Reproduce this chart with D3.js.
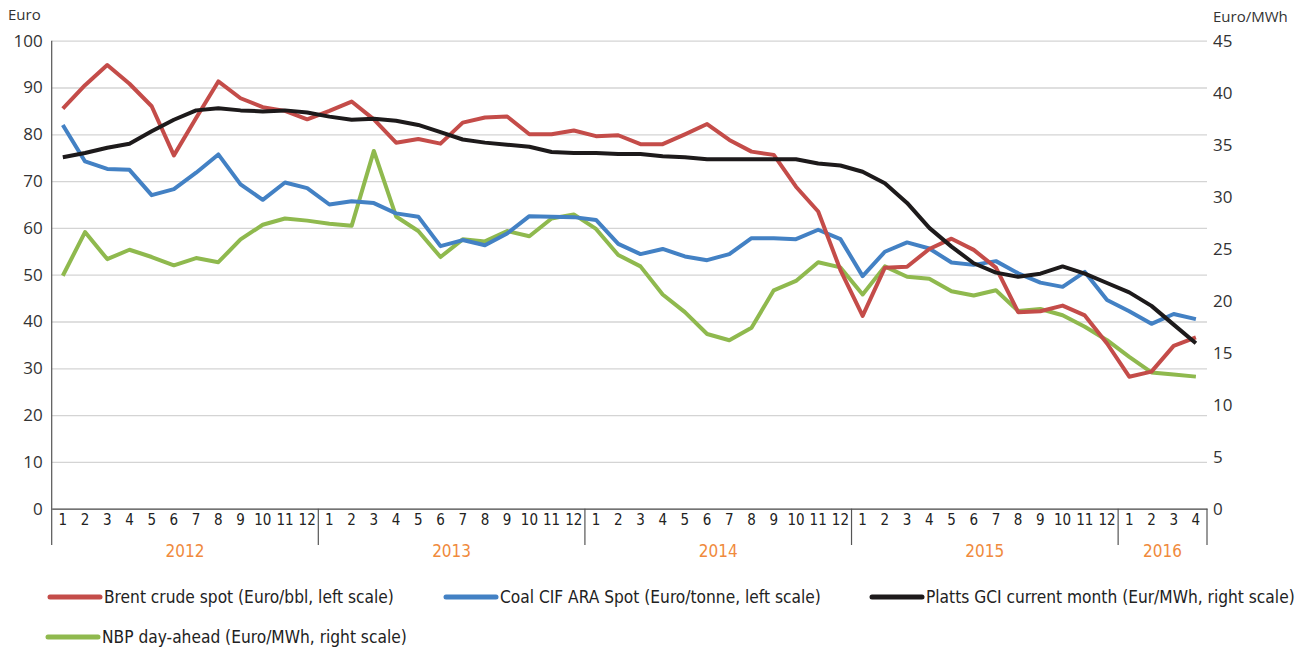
<!DOCTYPE html>
<html>
<head>
<meta charset="utf-8">
<script src="https://cdn.jsdelivr.net/npm/d3@7"></script>
<style>
  body { margin: 0; background: #fff; }
  text { font-family: "DejaVu Sans Condensed", "Open Sans", sans-serif; fill: #333; }
</style>
</head>
<body>
<div id="chart"></div>
<script>
var years = ["2012", "2013", "2014", "2015", "2016"];
var monthsPerYear = [12, 12, 12, 12, 4];

// left scale, Euro
var brent = [85.5, 90.5, 94.8, 90.8, 86.0, 75.5, 83.5, 91.3, 87.7, 85.8, 85.0, 83.2,
  85.0, 87.0, 83.2, 78.2, 79.0, 78.0, 82.5, 83.6, 83.8, 80.0, 80.0, 80.8,
  79.6, 79.8, 77.9, 77.9, 80.0, 82.2, 78.8, 76.3, 75.6, 68.8, 63.5, 51.0,
  41.2, 51.5, 51.7, 55.5, 57.7, 55.3, 51.5, 42.0, 42.2, 43.4, 41.3, 35.3,
  28.2, 29.3, 34.8, 36.6];
var coal = [82.0, 74.2, 72.6, 72.4, 67.0, 68.3, 71.8, 75.7, 69.3, 66.0, 69.7, 68.5,
  65.0, 65.7, 65.3, 63.1, 62.4, 56.1, 57.4, 56.3, 58.8, 62.5, 62.4, 62.3,
  61.7, 56.6, 54.4, 55.5, 53.9, 53.1, 54.4, 57.8, 57.8, 57.6, 59.6, 57.6,
  49.7, 54.9, 56.9, 55.6, 52.6, 52.1, 52.9, 50.3, 48.3, 47.4, 50.6, 44.6,
  42.2, 39.5, 41.6, 40.5];
// right scale, Euro/MWh
var platts = [33.8, 34.2, 34.7, 35.1, 36.3, 37.4, 38.3, 38.5, 38.3, 38.2, 38.3, 38.1,
  37.7, 37.4, 37.5, 37.3, 36.9, 36.2, 35.5, 35.2, 35.0, 34.8, 34.3, 34.2,
  34.2, 34.1, 34.1, 33.9, 33.8, 33.6, 33.6, 33.6, 33.6, 33.6, 33.2, 33.0,
  32.4, 31.3, 29.4, 27.0, 25.2, 23.6, 22.7, 22.3, 22.6, 23.3, 22.6, 21.7,
  20.8, 19.5, 17.7, 15.9];
var nbp = [22.4, 26.6, 24.0, 24.9, 24.2, 23.4, 24.1, 23.7, 25.9, 27.3, 27.9, 27.7,
  27.4, 27.2, 34.4, 28.1, 26.7, 24.2, 25.9, 25.7, 26.7, 26.2, 27.9, 28.3,
  26.9, 24.4, 23.3, 20.6, 18.9, 16.8, 16.2, 17.4, 21.0, 21.9, 23.7, 23.2,
  20.6, 23.3, 22.3, 22.1, 20.9, 20.5, 21.0, 19.0, 19.2, 18.6, 17.5, 16.2,
  14.6, 13.1, 12.9, 12.7];

var leftTicks = [0, 10, 20, 30, 40, 50, 60, 70, 80, 90, 100];
var rightTicks = [0, 5, 10, 15, 20, 25, 30, 35, 40, 45];

var seriesNames = [
  "Brent crude spot (Euro/bbl, left scale)",
  "Coal CIF ARA Spot (Euro/tonne, left scale)",
  "Platts GCI current month (Eur/MWh, right scale)",
  "NBP day-ahead (Euro/MWh, right scale)"
];
var colors = ["#c44c49", "#4381c4", "#1d1a1b", "#8fb94e"];

var width = 1310, height = 651;
var plotL = 51.7, plotR = 1207, plotT = 40.7, plotB = 508.7;

var labels = [];
years.forEach(function (y, i) {
  for (var m = 1; m <= monthsPerYear[i]; m++) labels.push({ year: y, month: m });
});
var idx = d3.range(labels.length);

var x = d3.scaleBand().domain(idx).range([plotL, plotR]);
var yL = d3.scaleLinear().domain([0, 100]).range([plotB, plotT]);
var yR = d3.scaleLinear().domain([0, 45]).range([plotB, plotT]);

var svg = d3.select("#chart").append("svg")
  .attr("width", width)
  .attr("height", height);

// gridlines
svg.append("g")
  .attr("transform", "translate(" + plotL + ",0)")
  .call(d3.axisLeft(yL).tickValues(leftTicks.slice(1)).tickSize(-(plotR - plotL)).tickFormat(""))
  .call(function (g) {
    g.select(".domain").remove();
    g.selectAll("line").attr("stroke", "#d4d4d4").attr("stroke-width", 1.3);
  });

// left axis labels
svg.append("g")
  .attr("transform", "translate(" + plotL + ",0)")
  .call(d3.axisLeft(yL).tickValues(leftTicks).tickSize(0).tickPadding(9))
  .call(function (g) {
    g.select(".domain").remove();
    g.selectAll("text").attr("font-size", 17).style("fill", "#333")
      .style("font-family", "'Open Sans', sans-serif");
  });

// right axis labels
svg.append("g")
  .attr("transform", "translate(" + plotR + ",0)")
  .call(d3.axisRight(yR).tickValues(rightTicks).tickSize(0).tickPadding(6))
  .call(function (g) {
    g.select(".domain").remove();
    g.selectAll("text").attr("font-size", 17).style("fill", "#333")
      .style("font-family", "'Open Sans', sans-serif");
  });

svg.append("text").attr("x", 8).attr("y", 20).attr("font-size", 15).text("Euro")
  .style("font-family", "'Open Sans', sans-serif");
svg.append("text").attr("x", 1213).attr("y", 22).attr("font-size", 15).text("Euro/MWh")
  .style("font-family", "'Open Sans', sans-serif");

// left vertical axis line
svg.append("line")
  .attr("x1", plotL).attr("x2", plotL).attr("y1", plotT).attr("y2", 545)
  .attr("stroke", "#555").attr("stroke-width", 1.2);

// x axis month labels
svg.append("g")
  .attr("transform", "translate(0," + plotB + ")")
  .call(d3.axisBottom(x).tickSize(0).tickPadding(6).tickFormat(function (d) { return labels[d].month; }))
  .call(function (g) {
    g.select(".domain").attr("stroke", "#444").attr("stroke-width", 1.2);
    g.selectAll("text").attr("font-size", 15).style("fill", "#222");
  });

// year separators and labels
var start = 0;
years.forEach(function (y, i) {
  var n = monthsPerYear[i];
  var x0 = x(start), x1 = x(start + n - 1) + x.bandwidth();
  svg.append("line")
    .attr("x1", x1).attr("x2", x1).attr("y1", plotB).attr("y2", 545)
    .attr("stroke", "#555").attr("stroke-width", 1.2);
  svg.append("text")
    .attr("x", (x0 + x1) / 2).attr("y", 557)
    .attr("text-anchor", "middle").attr("font-size", 17)
    .style("fill", "#f08a3c")
    .text(y);
  start += n;
});

// lines
var data = [
  { values: brent, scale: yL },
  { values: coal, scale: yL },
  { values: platts, scale: yR },
  { values: nbp, scale: yR }
];
var order = [3, 1, 0, 2];
order.forEach(function (k) {
  var s = data[k];
  var line = d3.line()
    .x(function (d, i) { return x(i) + x.bandwidth() / 2; })
    .y(function (d) { return s.scale(d); });
  svg.append("path")
    .datum(s.values)
    .attr("fill", "none")
    .attr("stroke", colors[k])
    .attr("stroke-width", 4)
    .attr("stroke-linejoin", "round")
    .attr("d", line);
});

// legend
var legendPos = [
  { x: 50, y: 597 },
  { x: 446, y: 597 },
  { x: 872, y: 597 },
  { x: 48, y: 637 }
];
seriesNames.forEach(function (name, i) {
  var p = legendPos[i];
  svg.append("line")
    .attr("x1", p.x).attr("x2", p.x + 50).attr("y1", p.y).attr("y2", p.y)
    .attr("stroke", colors[i]).attr("stroke-width", 5).attr("stroke-linecap", "round");
  svg.append("text")
    .attr("x", p.x + 54).attr("y", p.y + 6)
    .attr("font-size", 17.2).style("fill", "#222")
    .text(name);
});
</script>
</body>
</html>
